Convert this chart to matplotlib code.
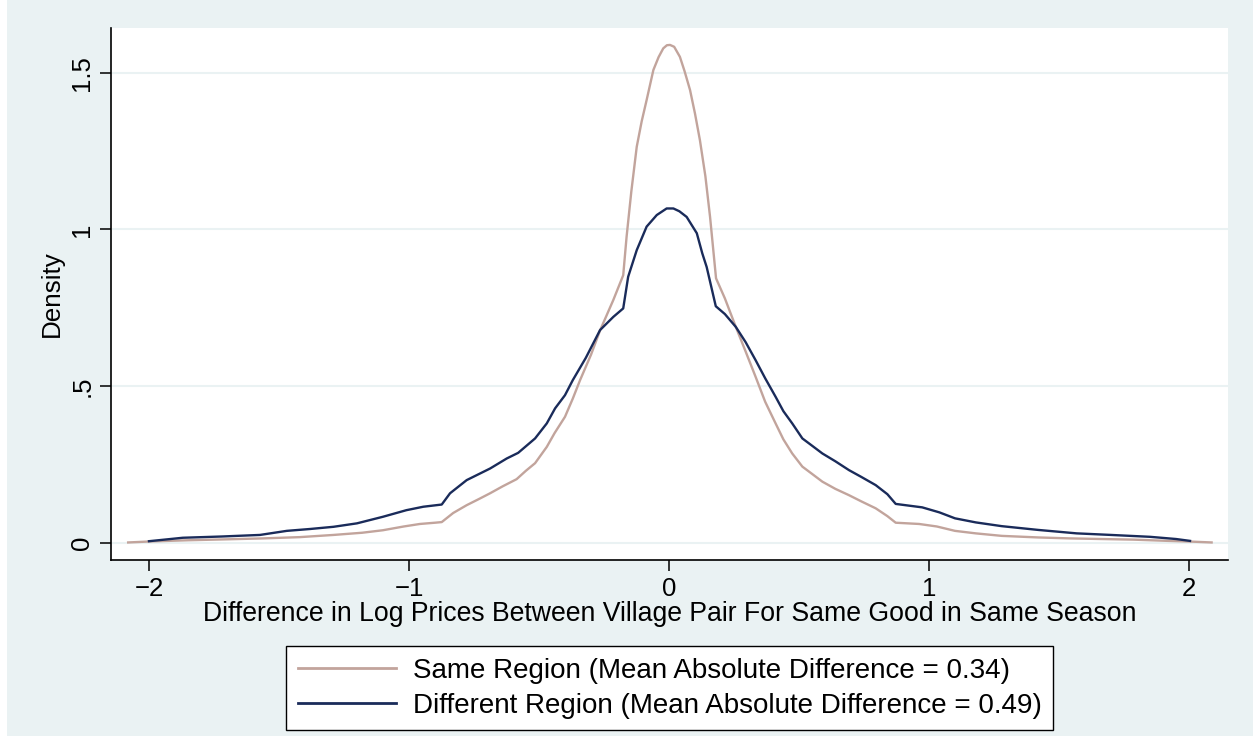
import matplotlib
matplotlib.use("Agg")
import matplotlib.pyplot as plt
from matplotlib.patches import Rectangle

plt.rcParams['font.family'] = ['Liberation Sans', 'DejaVu Sans']

# kernel density estimates of log price differences
x_same = [-2.08, -2.0, -1.85, -1.7, -1.56, -1.42, -1.29, -1.18, -1.10, -1.02,
          -0.958, -0.90, -0.874, -0.83, -0.778, -0.73, -0.688, -0.64, -0.586, -0.55,
          -0.515, -0.47, -0.44, -0.40, -0.37, -0.342, -0.30, -0.265, -0.214, -0.176,
          -0.163, -0.145, -0.124, -0.105, -0.086, -0.06, -0.04, -0.022, -0.008, 0.004,
          0.02, 0.042, 0.06, 0.081, 0.10, 0.119, 0.14, 0.158, 0.181, 0.215,
          0.257, 0.295, 0.333, 0.37, 0.41, 0.44, 0.474, 0.513, 0.55, 0.59,
          0.64, 0.692, 0.74, 0.795, 0.84, 0.872, 0.962, 1.03, 1.10, 1.18,
          1.28, 1.42, 1.54, 1.66, 1.786, 1.92, 2.0, 2.087]
y_same = [0.001, 0.004, 0.008, 0.011, 0.014, 0.018, 0.025, 0.032, 0.040, 0.052,
          0.060, 0.064, 0.066, 0.095, 0.120, 0.140, 0.158, 0.180, 0.203, 0.230,
          0.254, 0.306, 0.350, 0.402, 0.460, 0.519, 0.600, 0.678, 0.775, 0.854,
          0.977, 1.120, 1.264, 1.345, 1.413, 1.509, 1.550, 1.578, 1.588, 1.589,
          1.583, 1.551, 1.505, 1.445, 1.370, 1.285, 1.170, 1.040, 0.844, 0.780,
          0.689, 0.610, 0.530, 0.450, 0.381, 0.330, 0.285, 0.243, 0.220, 0.195,
          0.172, 0.152, 0.132, 0.110, 0.085, 0.064, 0.060, 0.052, 0.038, 0.030,
          0.022, 0.017, 0.014, 0.012, 0.010, 0.006, 0.004, 0.001]

x_diff = [-2.0, -1.87, -1.72, -1.573, -1.47, -1.38, -1.29, -1.20, -1.10, -1.01,
          -0.945, -0.874, -0.842, -0.778, -0.688, -0.624, -0.58, -0.515, -0.47, -0.438,
          -0.40, -0.37, -0.32, -0.265, -0.214, -0.176, -0.157, -0.124, -0.086, -0.047,
          -0.009, 0.017, 0.04, 0.068, 0.107, 0.128, 0.145, 0.18, 0.215, 0.257,
          0.295, 0.333, 0.37, 0.41, 0.44, 0.474, 0.513, 0.55, 0.59, 0.64,
          0.692, 0.74, 0.795, 0.84, 0.872, 0.974, 1.04, 1.10, 1.18, 1.28,
          1.42, 1.568, 1.70, 1.85, 1.95, 2.004]
y_diff = [0.005, 0.016, 0.020, 0.025, 0.038, 0.044, 0.051, 0.062, 0.083, 0.104,
          0.115, 0.122, 0.158, 0.200, 0.237, 0.269, 0.287, 0.333, 0.381, 0.429,
          0.471, 0.519, 0.590, 0.679, 0.721, 0.748, 0.849, 0.934, 1.009, 1.046,
          1.067, 1.067, 1.058, 1.040, 0.988, 0.924, 0.880, 0.755, 0.730, 0.689,
          0.640, 0.583, 0.525, 0.466, 0.420, 0.381, 0.333, 0.310, 0.285, 0.260,
          0.232, 0.210, 0.184, 0.155, 0.124, 0.113, 0.097, 0.078, 0.065, 0.053,
          0.041, 0.030, 0.025, 0.019, 0.012, 0.006]

label_same = "Same Region (Mean Absolute Difference = 0.34)"
label_diff = "Different Region (Mean Absolute Difference = 0.49)"
x_ticks = [-2, -1, 0, 1, 2]
x_tick_labels = ["\u22122", "\u22121", "0", "1", "2"]
y_ticks = [0, 0.5, 1, 1.5]
y_tick_labels = ["0", ".5", "1", "1.5"]

bg = "#EAF2F3"
c_same = "#C2A49C"
c_diff = "#1A2B5A"

fig = plt.figure(figsize=(12.53, 7.36), dpi=100, facecolor=bg)
fig.patches.append(Rectangle((0, 0), 7 / 1253, 1, transform=fig.transFigure,
                             facecolor="white", edgecolor="none", zorder=0))
ax = fig.add_axes([111 / 1253, 176 / 736, 1117 / 1253, 532 / 736])
ax.set_facecolor("white")

ax.plot(x_same, y_same, color=c_same, lw=1.7, label=label_same, zorder=3)
ax.plot(x_diff, y_diff, color=c_diff, lw=1.7, label=label_diff, zorder=4)

ax.set_xlim(-2.146, 2.150)
ax.set_ylim(-0.055, 1.643)
ax.set_xticks(x_ticks)
ax.set_xticklabels(x_tick_labels)
ax.set_yticks(y_ticks)
ax.set_yticklabels(y_tick_labels, rotation=90, va="center")
ax.tick_params(axis="both", labelsize=18.5, length=8, width=1.1, color="black")
ax.tick_params(axis="x", pad=4)
ax.tick_params(axis="y", pad=4)

ax.yaxis.grid(True, color=bg, lw=1.5)
ax.xaxis.grid(False)
ax.set_axisbelow(True)
for s in ["top", "right"]:
    ax.spines[s].set_visible(False)
for s in ["left", "bottom"]:
    ax.spines[s].set_linewidth(1.2)
    ax.spines[s].set_color("black")

ax.set_xlabel("Difference in Log Prices Between Village Pair For Same Good in Same Season",
              fontsize=19.2, labelpad=0)
ax.set_ylabel("Density", fontsize=18.7, labelpad=5)

leg = ax.legend(loc="upper center", bbox_to_anchor=(669.5 / 1253, 90 / 736),
                bbox_transform=fig.transFigure, borderaxespad=0, fancybox=False,
                fontsize=20, handlelength=3.56, handletextpad=0.58,
                borderpad=0.42, labelspacing=0.32, framealpha=1)
leg.get_frame().set_edgecolor("black")
leg.get_frame().set_linewidth(1.0)
for h in leg.get_lines():
    h.set_linewidth(2)

fig.savefig("out.png", dpi=100, facecolor=bg)
